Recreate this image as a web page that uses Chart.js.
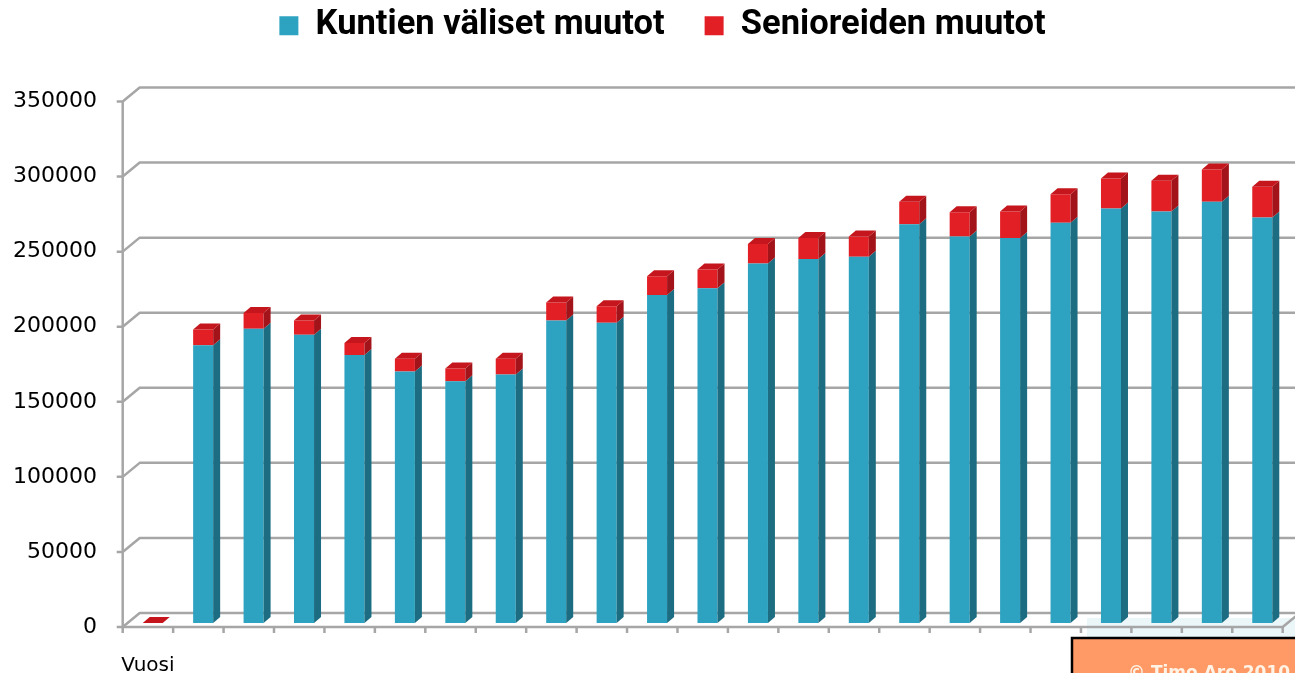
<!DOCTYPE html>
<html lang="fi">
<head>
<meta charset="utf-8">
<title>Kuntien väliset muutot ja senioreiden muutot</title>
<script src="https://cdn.jsdelivr.net/npm/chart.js@4.4.1/dist/chart.umd.min.js"></script>
<style>
  html, body { margin: 0; padding: 0; background: #fff; }
  .chart-wrap { position: relative; width: 1295px; height: 673px; overflow: hidden; }
</style>
</head>
<body>
<div class="chart-wrap">
  <canvas id="muutotChart"></canvas>
</div>
<script>
  // Data
  const categories = ["Vuosi", "", "", "", "", "", "", "", "", "", "", "", "", "", "", "", "", "", "", "", "", "", ""];
  const kuntienValiset = [0, 185000, 196000, 192000, 178500, 167500, 161000, 165500, 201500, 200000, 218500, 223000,
    239500, 242500, 244000, 265500, 257500, 256500, 266500, 276000, 274000, 280500, 270000];
  const senioreiden = [0, 10500, 10500, 9500, 8000, 8500, 8500, 10500, 12000, 11000, 12500, 12500,
    13000, 14000, 13500, 15000, 16000, 17500, 19000, 20000, 20500, 21500, 20500];
  const yTicks = { min: 0, max: 350000, step: 50000 };
  const seriesNames = ["Kuntien väliset muutot", "Senioreiden muutot"];

  (function () {
    const colors = {
      teal: "#2DA3C1",
      tealSide: "#1D6D82",
      red: "#E31F26",
      redSide: "#A3141A",
      redTop: "#C4161C",
      grid: "#A6A6A6",
    };
    const barDepth = { x: 7, y: -6 };   // depth of a single column
    const wallDepth = { x: 17, y: -14 }; // depth of the floor / side wall
    const toFront = { x: -4.8, y: 4 };  // columns stand a bit behind the front edge
    const legendExtra = 44.5;          // room between legend and plot
    const legendShift = 18.75;         // legend is centred over the plot, not the canvas

    function fillPoly(ctx, points, color) {
      ctx.beginPath();
      ctx.moveTo(points[0][0], points[0][1]);
      points.slice(1).forEach((p) => ctx.lineTo(p[0], p[1]));
      ctx.closePath();
      ctx.fillStyle = color;
      ctx.fill();
    }

    const threeD = {
      id: "threeD",
      beforeInit(chart) {
        const originalFit = chart.legend.fit;
        chart.legend.fit = function fit() {
          originalFit.bind(chart.legend)();
          this.height += legendExtra;
        };
      },
      afterLayout(chart) {
        chart.legend.left += legendShift;
        chart.legend.right += legendShift;
      },
      beforeDatasetsDraw(chart) {
        const { ctx, chartArea, scales } = chart;
        const left = chartArea.left + toFront.x;
        const right = chartArea.right + toFront.x;
        const bottom = scales.y.getPixelForValue(0) + toFront.y;
        const top = scales.y.getPixelForValue(yTicks.max) + toFront.y;

        ctx.save();
        // pale panel behind the floor, lower right
        ctx.fillStyle = "#EAF6F8";
        ctx.fillRect(1087, bottom - 9, chart.width - 1087, 20);

        ctx.strokeStyle = colors.grid;
        ctx.lineWidth = 2.5;
        ctx.lineJoin = "round";
        scales.y.ticks.forEach((tick) => {
          const py = scales.y.getPixelForValue(tick.value) + toFront.y;
          ctx.beginPath();
          ctx.moveTo(left - 6, py);
          ctx.lineTo(left, py);
          ctx.lineTo(left + wallDepth.x, py + wallDepth.y);
          ctx.lineTo(chart.width, py + wallDepth.y);
          ctx.stroke();
        });

        // front vertical axis and floor edge
        ctx.beginPath();
        ctx.moveTo(left, top);
        ctx.lineTo(left, bottom);
        ctx.lineTo(right, bottom);
        ctx.lineTo(right + wallDepth.x, bottom + wallDepth.y);
        ctx.stroke();

        // category tick marks on the front edge
        const n = scales.x.ticks.length;
        for (let i = 0; i <= n; i++) {
          const px = left + (i * (right - left)) / n;
          ctx.beginPath();
          ctx.moveTo(px, bottom);
          ctx.lineTo(px, bottom + 6);
          ctx.stroke();
        }
        ctx.restore();
      },
      afterDatasetsDraw(chart) {
        const { ctx } = chart;
        const sides = [colors.tealSide, colors.redSide];
        const last = chart.data.datasets.length - 1;
        ctx.save();
        chart.data.datasets.forEach((ds, i) => {
          chart.getDatasetMeta(i).data.forEach((bar) => {
            const { x, y, base, width } = bar.getProps(["x", "y", "base", "width"], true);
            const l = x - width / 2;
            const r = x + width / 2;
            if (base - y > 0) {
              fillPoly(ctx, [[r, y], [r + barDepth.x, y + barDepth.y], [r + barDepth.x, base + barDepth.y], [r, base]], sides[i]);
            }
            if (i === last) {
              fillPoly(ctx, [[l, y], [l + barDepth.x, y + barDepth.y], [r + barDepth.x, y + barDepth.y], [r, y]], colors.redTop);
            }
          });
        });
        ctx.restore();
      },
      afterDraw(chart) {
        const { ctx } = chart;
        ctx.save();
        ctx.fillStyle = "#FF9966";
        ctx.strokeStyle = "#000";
        ctx.lineWidth = 2.5;
        ctx.fillRect(1072, 638, chart.width - 1072 + 10, 60);
        ctx.strokeRect(1072, 638, chart.width - 1072 + 10, 60);
        ctx.fillStyle = "#FFF3E6";
        ctx.font = "bold 17px 'DejaVu Sans'";
        ctx.textBaseline = "alphabetic";
        ctx.fillText("© Timo Aro 2010", 1128, 678);
        ctx.restore();
      },
    };

    new Chart(document.getElementById("muutotChart"), {
      type: "bar",
      data: {
        labels: categories,
        datasets: [
          { label: seriesNames[0], data: kuntienValiset, backgroundColor: colors.teal, borderWidth: 0 },
          { label: seriesNames[1], data: senioreiden, backgroundColor: colors.red, borderWidth: 0 },
        ],
      },
      options: {
        responsive: true,
        maintainAspectRatio: false,
        animation: false,
        layout: { padding: { left: 0, right: 7.5, top: -31.5, bottom: 0 } },
        datasets: { bar: { categoryPercentage: 1, barPercentage: 0.397 } },
        plugins: {
          legend: {
            position: "top",
            labels: {
              color: "#000",
              font: { family: "Roboto", size: 34.5, weight: "bold" },
              boxWidth: 19,
              boxHeight: 19,
              padding: 40,
            },
          },
          tooltip: { enabled: false },
        },
        scales: {
          x: {
            stacked: true,
            grid: { display: false, drawTicks: false },
            border: { display: false },
            ticks: {
              color: "#000",
              font: { family: "DejaVu Sans", size: 20 },
              padding: 31,
              labelOffset: -4.8,
              maxRotation: 0,
              autoSkip: false,
            },
            afterFit(scale) {
              scale.height = 50;
            },
          },
          y: {
            stacked: true,
            min: yTicks.min,
            max: yTicks.max,
            grid: { display: false, drawTicks: false },
            border: { display: false },
            ticks: {
              stepSize: yTicks.step,
              color: "#000",
              font: { family: "DejaVu Sans", size: 22 },
              padding: 30.5,
              labelOffset: 4,
              callback: (value) => String(value),
            },
            afterFit(scale) {
              scale.width = 127.5;
            },
          },
        },
      },
      plugins: [threeD],
    });
  })();
</script>
</body>
</html>
